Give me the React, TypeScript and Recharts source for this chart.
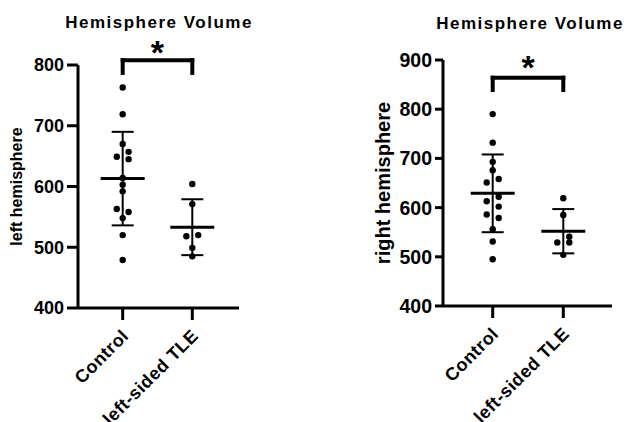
import { ScatterChart, Scatter, XAxis, YAxis, ErrorBar, ReferenceLine } from 'recharts';

const FONT = '"Liberation Sans", Arial, Helvetica, sans-serif';

// group names on the x axis (x = 1, 2)
const GROUPS = ['Control', 'left-sided TLE'];

// left hemisphere volumes
const LEFT_CONTROL = [763, 719, 670, 657, 649, 645, 614, 603, 592, 563, 558, 548, 520, 479];
const LEFT_CONTROL_LANE = [0, 0, 0, 1, -1, 1, 0, 0, 0, -1, 1, 0, 0, 0];
const LEFT_TLE = [604, 571, 518, 520, 499, 485];
const LEFT_TLE_LANE = [0, 0, -1, 1, 0, 0];
const LEFT_MEAN = [613, 533];
const LEFT_SD = [77, 46];
const LEFT_TICKS = [400, 500, 600, 700, 800];
const LEFT_BRACKET = [808, 787]; // top, foot

// right hemisphere volumes
const RIGHT_CONTROL = [790, 732, 693, 676, 658, 651, 622, 613, 602, 586, 579, 556, 531, 495];
const RIGHT_CONTROL_LANE = [0, 0, 0, 0, 1, -1, 1, -1, 1, -1, 1, 0, 0, 0];
const RIGHT_TLE = [619, 585, 541, 529, 529, 504];
const RIGHT_TLE_LANE = [0, 0, 1, -1, 1, 0];
const RIGHT_MEAN = [629, 552];
const RIGHT_SD = [79, 45];
const RIGHT_TICKS = [400, 500, 600, 700, 800, 900];
const RIGHT_BRACKET = [864, 839];

const LANE = 0.085;

const toPoints = (group: number, vals: number[], lanes: number[]) =>
  vals.map((v, i) => ({ x: group + lanes[i] * LANE, y: v }));

const dot = (p: any) => <circle cx={p.cx} cy={p.cy} r={3.2} fill="#000" />;
const meanBar = (p: any) => (
  <line x1={p.cx - 22} x2={p.cx + 22} y1={p.cy} y2={p.cy} stroke="#000" strokeWidth={3} />
);

function GroupTick({ x, y, payload }: any) {
  return (
    <text
      transform={`translate(${x + 7},${y + 15}) rotate(-45)`}
      textAnchor="end"
      fontSize={18}
      fontWeight={700}
      fontFamily={FONT}
      letterSpacing={0.5}
      fill="#000"
    >
      {GROUPS[payload.value - 1]}
    </text>
  );
}

interface PanelProps {
  control: number[];
  controlLane: number[];
  tle: number[];
  tleLane: number[];
  mean: number[];
  sd: number[];
  ticks: number[];
  bracket: number[];
  starOffset: number;
  yLabel: string;
  yLabelSize: number;
  yLabelX: number;
  tickSize: number;
  tickFont: number;
  xDomain: [number, number];
  top: number;
  right: number;
  yAxisWidth: number;
  xAxisHeight: number;
}

function Panel(p: PanelProps) {
  const summary = p.mean.map((m, i) => ({ x: i + 1, y: m, sd: p.sd[i] }));
  const line = { stroke: '#000', strokeWidth: 4, strokeLinecap: 'square' as const, ifOverflow: 'visible' as const };
  return (
    <ScatterChart width={312} height={422} margin={{ top: p.top, right: p.right, bottom: 0, left: 0 }}>
      <XAxis
        type="number"
        dataKey="x"
        domain={p.xDomain}
        ticks={[1, 2]}
        allowDataOverflow
        height={p.xAxisHeight}
        tickSize={12}
        tickMargin={2}
        axisLine={{ stroke: '#000', strokeWidth: 3 }}
        tickLine={{ stroke: '#000', strokeWidth: 3 }}
        tick={<GroupTick />}
      />
      <YAxis
        type="number"
        dataKey="y"
        domain={[p.ticks[0], p.ticks[p.ticks.length - 1]]}
        ticks={p.ticks}
        allowDataOverflow
        width={p.yAxisWidth}
        tickSize={p.tickSize}
        tickMargin={3}
        axisLine={{ stroke: '#000', strokeWidth: 3 }}
        tickLine={{ stroke: '#000', strokeWidth: 3 }}
        tick={{ fill: '#000', fontSize: p.tickFont, fontWeight: 700, fontFamily: FONT }}
        label={{
          value: p.yLabel,
          angle: -90,
          position: 'insideLeft',
          offset: p.yLabelX,
          textAnchor: 'middle',
          fill: '#000',
          fontSize: p.yLabelSize,
          fontWeight: 700,
          fontFamily: FONT,
        }}
      />
      <Scatter data={toPoints(1, p.control, p.controlLane)} shape={dot} isAnimationActive={false} />
      <Scatter data={toPoints(2, p.tle, p.tleLane)} shape={dot} isAnimationActive={false} />
      <Scatter data={summary} shape={meanBar} isAnimationActive={false}>
        <ErrorBar dataKey="sd" direction="y" width={11} strokeWidth={2} stroke="#000" isAnimationActive={false} />
      </Scatter>
      <ReferenceLine
        segment={[{ x: 1, y: p.bracket[0] }, { x: 2, y: p.bracket[0] }]}
        {...line}
        label={{ value: '*', position: 'top', offset: p.starOffset, fontSize: 34, fontWeight: 700, fill: '#000', fontFamily: FONT }}
      />
      <ReferenceLine segment={[{ x: 1, y: p.bracket[0] }, { x: 1, y: p.bracket[1] }]} {...line} />
      <ReferenceLine segment={[{ x: 2, y: p.bracket[0] }, { x: 2, y: p.bracket[1] }]} {...line} />
    </ScatterChart>
  );
}

const titleStyle = {
  position: 'absolute' as const,
  fontFamily: FONT,
  fontWeight: 700,
  fontSize: 17,
  letterSpacing: 1.5,
  lineHeight: '17px',
  whiteSpace: 'nowrap' as const,
  transform: 'translateX(-50%)',
};

export default function App() {
  return (
    <div style={{ position: 'absolute', left: 0, top: 0, width: 624, height: 422, background: '#fff', overflow: 'hidden' }}>
      <div style={{ ...titleStyle, left: 159, top: 14 }}>Hemisphere Volume</div>
      <div style={{ ...titleStyle, left: 530, top: 15 }}>Hemisphere Volume</div>
      <div style={{ position: 'absolute', left: 0, top: 0 }}>
        <Panel
          control={LEFT_CONTROL}
          controlLane={LEFT_CONTROL_LANE}
          tle={LEFT_TLE}
          tleLane={LEFT_TLE_LANE}
          mean={LEFT_MEAN}
          sd={LEFT_SD}
          ticks={LEFT_TICKS}
          bracket={LEFT_BRACKET}
          starOffset={-4}
          yLabel="left hemisphere"
          yLabelSize={16}
          yLabelX={16}
          tickSize={11}
          tickFont={18}
          xDomain={[0.358, 2.671]}
          top={65}
          right={73}
          yAxisWidth={78}
          xAxisHeight={114}
        />
      </div>
      <div style={{ position: 'absolute', left: 312, top: 0 }}>
        <Panel
          control={RIGHT_CONTROL}
          controlLane={RIGHT_CONTROL_LANE}
          tle={RIGHT_TLE}
          tleLane={RIGHT_TLE_LANE}
          mean={RIGHT_MEAN}
          sd={RIGHT_SD}
          ticks={RIGHT_TICKS}
          bracket={RIGHT_BRACKET}
          starOffset={-1}
          yLabel="right hemisphere"
          yLabelSize={20}
          yLabelX={71}
          tickSize={8}
          tickFont={19.5}
          xDomain={[0.296, 2.69]}
          top={60}
          right={12}
          yAxisWidth={131}
          xAxisHeight={116}
        />
      </div>
    </div>
  );
}
